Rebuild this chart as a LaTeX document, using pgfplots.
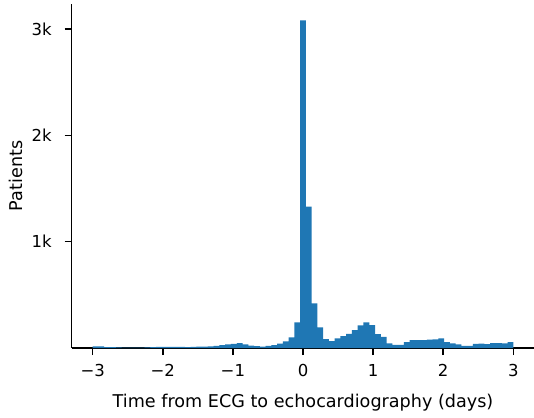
\documentclass[border=0pt]{standalone}
\usepackage{pgfplots}
\pgfplotsset{compat=1.18}
\usepackage{fontspec}
\setmainfont{DejaVu Sans}
\definecolor{mplblue}{HTML}{1F77B4}
\begin{document}
\begin{tikzpicture}
\begin{axis}[
  name=ax, at={(0,0)}, anchor=south west,
  scale only axis, width=462.6pt, height=344pt,
  xmin=-3.3, xmax=3.3, ymin=0, ymax=3235,
  axis x line*=bottom, axis y line*=left,
  axis line style={line width=1.5pt},
  tick align=outside,
  major tick length=7pt,
  every tick/.style={black, line width=1.5pt},
  xtick={-3,-2,-1,0,1,2,3},
  xticklabels={−3,−2,−1,0,1,2,3},
  ytick={1000,2000,3000},
  yticklabels={1k,2k,3k},
  minor tick num=0,
  tick label style={font=\fontsize{16.5}{19.8}\selectfont},
  label style={font=\fontsize{17.6}{21}\selectfont},
  xticklabel style={yshift=-6pt},
  yticklabel style={xshift=-9.5pt},
  xlabel={Time from ECG to echocardiography (days)},
  ylabel={Patients},
  xlabel style={yshift=-10pt},
  ylabel style={yshift=2pt},
  /pgf/number format/assume math mode=true,
  clip=false,
]
\addplot[ybar interval, fill=mplblue, draw=none] coordinates {
(-3.0000,15) (-2.9178,15) (-2.8356,8) (-2.7534,8) (-2.6712,5) (-2.5890,4)
(-2.5068,3) (-2.4247,3) (-2.3425,4) (-2.2603,5) (-2.1781,8) (-2.0959,10)
(-2.0137,10) (-1.9315,10) (-1.8493,10) (-1.7671,10) (-1.6849,8) (-1.6027,10)
(-1.5205,12) (-1.4384,12) (-1.3562,15) (-1.2740,20) (-1.1918,28) (-1.1096,35)
(-1.0274,38) (-0.9452,45) (-0.8630,35) (-0.7808,22) (-0.6986,18) (-0.6164,12)
(-0.5342,20) (-0.4521,27) (-0.3699,40) (-0.2877,62) (-0.2055,100) (-0.1233,241)
(-0.0411,3081) (0.0411,1330) (0.1233,420) (0.2055,194) (0.2877,84) (0.3699,65)
(0.4521,90) (0.5342,112) (0.6164,134) (0.6986,169) (0.7808,213) (0.8630,241)
(0.9452,215) (1.0274,131) (1.1096,105) (1.1918,43) (1.2740,30) (1.3562,30)
(1.4384,56) (1.5205,75) (1.6027,74) (1.6849,74) (1.7671,78) (1.8493,81)
(1.9315,90) (2.0137,56) (2.0959,43) (2.1781,33) (2.2603,20) (2.3425,20)
(2.4247,38) (2.5068,40) (2.5890,37) (2.6712,46) (2.7534,46) (2.8356,43)
(2.9178,56) (3.0000,56)
};
\end{axis}
\pgfresetboundingbox
\path[use as bounding box] (-71.7pt,-69pt) rectangle (462.3pt,348pt);
\end{tikzpicture}
\end{document}
